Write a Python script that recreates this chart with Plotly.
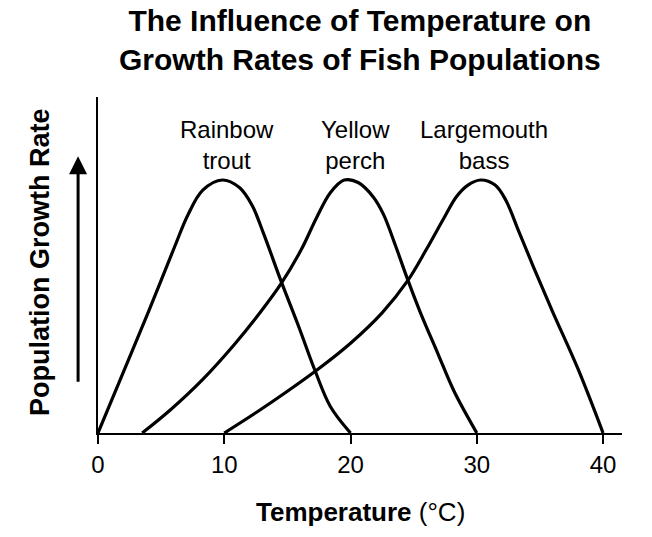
import plotly.graph_objects as go

# Temperature (°C) and relative growth rate (peak = 100)
trout_t = [0, 2.0, 4.0, 6.1, 7.1, 8.3, 9.85, 11.2, 12.2, 13.1, 14.5, 15.9, 17.2, 18.4, 20]
trout_g = [0, 24, 48, 74, 86, 96, 100, 97, 90, 79, 60, 42, 24.5, 10.5, 0]

perch_t = [3.5, 5.7, 8.26, 10.8, 12.9, 14.5, 16.1, 17.3, 18.4, 19.5, 20.6, 21.8, 22.6, 23.6, 24.5, 25.5, 26.9, 28.2, 30]
perch_g = [0, 9, 21, 35, 48, 59, 72.5, 85, 95, 100, 99, 93.3, 86.5, 73.5, 61, 48, 31.6, 16.5, 0]

bass_t = [10, 12.5, 15, 17.5, 20, 22.5, 24.5, 26.0, 27.4, 28.4, 29.3, 30.3, 31.45, 32.3, 33.3, 34.5, 36, 38, 40]
bass_g = [0, 8, 16.5, 25.5, 35.5, 47.5, 60, 72.5, 85, 93.5, 98, 100, 98, 92, 80, 65.5, 48, 25.5, 0]

tick_vals = [0, 10, 20, 30, 40]
tick_text = ["0", "10", "20", "30", "40"]

species = ["Rainbow<br>trout", "Yellow<br>perch", "Largemouth<br>bass"]
species_x = [10.2, 20.4, 30.6]

FONT = "Arial, Liberation Sans, sans-serif"

fig = go.Figure()
for t, g in [(trout_t, trout_g), (perch_t, perch_g), (bass_t, bass_g)]:
    fig.add_trace(go.Scatter(x=t, y=g, mode="lines",
                             line=dict(color="black", width=3.2, shape="spline", smoothing=1.0),
                             cliponaxis=False, hoverinfo="skip", showlegend=False))

annotations = []
for name, sx in zip(species, species_x):
    annotations.append(dict(x=sx, y=114, xref="x", yref="y", text=name, showarrow=False,
                            font=dict(size=24, color="black", family=FONT), yanchor="middle"))

annotations.append(dict(x=0.5, y=1.17, xref="paper", yref="paper",
                        text="<b>The Influence of Temperature on<br>Growth Rates of Fish Populations</b>",
                        showarrow=False, font=dict(size=30, color="black", family=FONT),
                        yanchor="middle"))
annotations.append(dict(x=0.5, y=-0.234, xref="paper", yref="paper",
                        text="<b>Temperature</b> (°C)", showarrow=False,
                        font=dict(size=26, color="black", family=FONT), yanchor="middle"))
annotations.append(dict(x=-0.1107, y=0.509, xref="paper", yref="paper",
                        text="<b>Population Growth Rate</b>", showarrow=False, textangle=-90,
                        font=dict(size=27, color="black", family=FONT), xanchor="center", yanchor="middle"))
# arrow
annotations.append(dict(x=-0.038, y=0.824, xref="paper", yref="paper", text="",
                        showarrow=True, ax=0, ay=227, axref="pixel", ayref="pixel",
                        arrowhead=2, arrowsize=1.2, arrowwidth=3, arrowcolor="black"))

fig.update_layout(
    width=652, height=537,
    margin=dict(l=98, r=30, t=97, b=104),
    paper_bgcolor="white", plot_bgcolor="white",
    annotations=annotations,
    xaxis=dict(range=[0, 41.5], showgrid=False, zeroline=False, showline=True,
               linecolor="black", linewidth=2, ticks="outside", ticklen=9, tickwidth=2,
               tickcolor="black", tickvals=tick_vals, ticktext=tick_text,
               tickfont=dict(size=24, color="black", family=FONT)),
    yaxis=dict(range=[0, 132.8], showgrid=False, zeroline=False, showline=True,
               linecolor="black", linewidth=2, showticklabels=False, ticks=""),
)

fig.write_html("out.html")
